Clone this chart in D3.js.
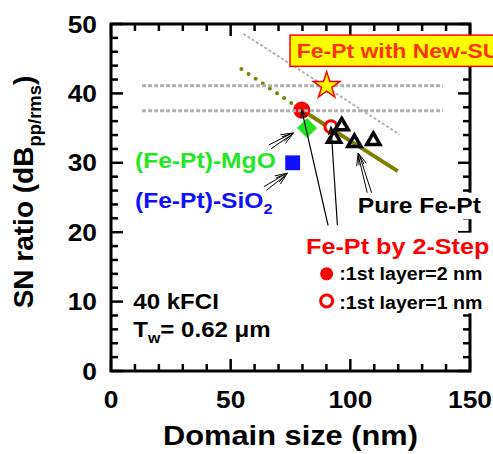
<!DOCTYPE html>
<html>
<head>
<meta charset="utf-8">
<script src="https://cdn.jsdelivr.net/npm/d3@7"></script>
<style>
  body { margin: 0; background: #fff; }
  svg { display: block; font-family: "Liberation Sans", Arial, sans-serif; font-weight: bold; }
</style>
</head>
<body>
<svg id="chart"></svg>
<script>
// Domain size (nm) vs SN ratio (dB)
const pureSize = [96.4, 93.2, 101.7, 109.6];
const pureSN = [35.3, 33.5, 32.9, 33.2];
const step2nmSize = [79.7];
const step2nmSN = [37.6];
const step1nmSize = [91.9];
const step1nmSN = [35.2];
const mgoSize = [81.9];
const mgoSN = [35.0];
const sio2Size = [75.9];
const sio2SN = [30.0];
const newSulSize = [90.1];
const newSulSN = [41.1];

const trendSolidX = [79.7, 119.8];
const trendSolidY = [37.6, 28.8];
const trendDotX = [54.5, 79.7];
const trendDotY = [43.5, 37.6];
const grayDiagX = [55.3, 120.5];
const grayDiagY = [48.6, 34.1];
const refLevels = [41.1, 37.5];
const refRange = [13, 138.6];

const xTickLabels = [0, 50, 100, 150];
const yTickLabels = [0, 10, 20, 30, 40, 50];

const width = 493;
const height = 454;
const SX = 1.12; // glyphs in the figure are a little wider than Arial

const svg = d3.select('#chart')
    .attr('width', width)
    .attr('height', height);

const x = d3.scaleLinear().domain([0, 150]).range([111, 470]);
const y = d3.scaleLinear().domain([0, 50]).range([371, 24]);

// text helper: parts are strings or {sub: '...'}
function label(sel, px, py, parts, size, color, anchor, rot) {
    const t = sel.append('text')
        .attr('transform', rot
            ? `translate(${px},${py}) rotate(${rot})`
            : `translate(${px},${py}) scale(${SX},1)`)
        .attr('font-size', size)
        .attr('fill', color || '#000')
        .attr('text-anchor', anchor || 'start');
    let shift = 0;
    parts.forEach(p => {
        if (typeof p === 'string') {
            t.append('tspan').attr('dy', -shift).text(p);
            shift = 0;
        } else {
            shift = size * 0.28;
            t.append('tspan').attr('dy', shift).attr('font-size', size * 0.66).text(p.sub);
        }
    });
    return t;
}

// ---- axes (ticks inside on all four sides)
const axG = svg.append('g').attr('stroke', '#000');
const xMinor = d3.range(0, 151, 10);
const yMinor = d3.range(0, 51, 2);
const xLen = v => (v % 50 === 0 ? 12 : 7);
const yLen = v => (v % 10 === 0 ? 12 : 7);

axG.selectAll('.xb').data(xMinor).enter().append('line')
    .attr('x1', d => x(d)).attr('x2', d => x(d))
    .attr('y1', y(0)).attr('y2', d => y(0) - xLen(d))
    .attr('stroke-width', 2.5);
axG.selectAll('.xt').data(xMinor).enter().append('line')
    .attr('x1', d => x(d)).attr('x2', d => x(d))
    .attr('y1', y(50)).attr('y2', d => y(50) + xLen(d))
    .attr('stroke-width', 2.5);
axG.selectAll('.yl').data(yMinor).enter().append('line')
    .attr('y1', d => y(d)).attr('y2', d => y(d))
    .attr('x1', x(0)).attr('x2', d => x(0) + yLen(d))
    .attr('stroke-width', 2.5);
axG.selectAll('.yr').data(yMinor).enter().append('line')
    .attr('y1', d => y(d)).attr('y2', d => y(d))
    .attr('x1', x(150)).attr('x2', d => x(150) - yLen(d))
    .attr('stroke-width', 2.5);
axG.append('rect')
    .attr('x', x(0)).attr('y', y(50))
    .attr('width', x(150) - x(0)).attr('height', y(0) - y(50))
    .attr('fill', 'none').attr('stroke-width', 3);

xTickLabels.forEach(v => label(svg, x(v), 408, [String(v)], 23.5, '#000', 'middle'));
yTickLabels.forEach(v => label(svg, 97, y(v) + 8.5, [String(v)], 23.5, '#000', 'end'));

label(svg, 290.5, 445, ['Domain size (nm)'], 27.5, '#000', 'middle');
label(svg, 33, 192, ['SN ratio (dB', {sub: 'pp/rms'}, ')'], 28, '#000', 'middle', -90);

// ---- reference lines
const line = d3.line().x(d => x(d[0])).y(d => y(d[1]));

svg.append('path')
    .attr('d', line(grayDiagX.map((v, i) => [v, grayDiagY[i]])))
    .attr('stroke', '#b4b4b4').attr('stroke-width', 2)
    .attr('stroke-dasharray', '3,2').attr('fill', 'none');

svg.append('path')
    .attr('d', line(trendDotX.map((v, i) => [v, trendDotY[i]])))
    .attr('stroke', '#808000').attr('stroke-width', 4)
    .attr('stroke-linecap', 'round')
    .attr('stroke-dasharray', '0,8.6').attr('fill', 'none');

svg.append('path')
    .attr('d', line(trendSolidX.map((v, i) => [v, trendSolidY[i]])))
    .attr('stroke', '#808000').attr('stroke-width', 4).attr('fill', 'none');

// ---- markers
const sym = (type, size) => d3.symbol().type(type).size(size)();

svg.selectAll('.step2').data(step2nmSize).enter().append('path')
    .attr('transform', (d, i) => `translate(${x(d)},${y(step2nmSN[i])})`)
    .attr('d', sym(d3.symbolCircle, 230))
    .attr('fill', '#ff0000');

refLevels.forEach(v => {
    svg.append('line')
        .attr('x1', x(refRange[0])).attr('x2', x(refRange[1]))
        .attr('y1', y(v)).attr('y2', y(v))
        .attr('stroke', '#b0b0b0').attr('stroke-width', 3)
        .attr('stroke-dasharray', '4,2');
});

svg.selectAll('.mgo').data(mgoSize).enter().append('path')
    .attr('transform', (d, i) => `translate(${x(d)},${y(mgoSN[i])}) rotate(45)`)
    .attr('d', sym(d3.symbolSquare, 200))
    .attr('fill', '#22e822');

svg.selectAll('.sio2').data(sio2Size).enter().append('path')
    .attr('transform', (d, i) => `translate(${x(d)},${y(sio2SN[i])})`)
    .attr('d', sym(d3.symbolSquare, 220))
    .attr('fill', '#1010ff');

svg.selectAll('.step1').data(step1nmSize).enter().append('path')
    .attr('transform', (d, i) => `translate(${x(d)},${y(step1nmSN[i])})`)
    .attr('d', sym(d3.symbolCircle, 113))
    .attr('fill', '#fff').attr('stroke', '#ff0000').attr('stroke-width', 3);

svg.selectAll('.pure').data(pureSize).enter().append('path')
    .attr('transform', (d, i) => `translate(${x(d)},${y(pureSN[i])})`)
    .attr('d', sym(d3.symbolTriangle, 75))
    .attr('fill', 'none').attr('stroke', '#000').attr('stroke-width', 3.5)
    .attr('stroke-linejoin', 'miter');

svg.selectAll('.newsul').data(newSulSize).enter().append('path')
    .attr('transform', (d, i) => `translate(${x(d)},${y(newSulSN[i])})`)
    .attr('d', sym(d3.symbolStar, 220))
    .attr('fill', '#ffff00').attr('stroke', '#ff0000').attr('stroke-width', 1.5);

// ---- arrows
function arrowPath(x1, y1, x2, y2, double) {
    const dx = x2 - x1, dy = y2 - y1, L = Math.hypot(dx, dy);
    const ux = dx / L, uy = dy / L, nx = -uy, ny = ux;
    const p = d3.path();
    if (double) {
        [-1, 1].forEach(s => {
            p.moveTo(x1 + nx * 2.2 * s, y1 + ny * 2.2 * s);
            p.lineTo(x2 - ux * 3 + nx * 0.6 * s, y2 - uy * 3 + ny * 0.6 * s);
        });
        p.moveTo(x2 - ux * 12 + nx * 5, y2 - uy * 12 + ny * 5);
        p.lineTo(x2, y2);
        p.lineTo(x2 - ux * 12 - nx * 5, y2 - uy * 12 - ny * 5);
        p.moveTo(x2 - ux * 12 + nx * 2.5, y2 - uy * 12 + ny * 2.5);
        p.lineTo(x2, y2);
        p.lineTo(x2 - ux * 12 - nx * 2.5, y2 - uy * 12 - ny * 2.5);
    } else {
        p.moveTo(x1, y1);
        p.lineTo(x2, y2);
        p.moveTo(x2 - ux * 8 + nx * 3, y2 - uy * 8 + ny * 3);
        p.lineTo(x2, y2);
        p.lineTo(x2 - ux * 8 - nx * 3, y2 - uy * 8 - ny * 3);
    }
    return p.toString();
}

const dblArrows = [
    [66.4, 32.3, 76.2, 34.3],
    [64.4, 26.3, 73.7, 28.5],
    [108.2, 25.4, 103.3, 31.4]
];
const thinArrows = [
    [90.7, 21.0, step2nmSize[0], step2nmSN[0]],
    [94.6, 21.0, step1nmSize[0], step1nmSN[0]]
];
dblArrows.forEach(a => svg.append('path')
    .attr('d', arrowPath(x(a[0]), y(a[1]), x(a[2]), y(a[3]), true))
    .attr('stroke', '#000').attr('stroke-width', 1).attr('fill', 'none'));
thinArrows.forEach(a => svg.append('path')
    .attr('d', arrowPath(x(a[0]), y(a[1]), x(a[2]), y(a[3]), false))
    .attr('stroke', '#000').attr('stroke-width', 1.2).attr('fill', 'none'));

// ---- annotations
label(svg, x(10), y(29.2), ['(Fe-Pt)-MgO'], 22, '#22e822');
label(svg, x(10), y(23.5), ['(Fe-Pt)-SiO', {sub: '2'}], 22, '#1010ff');
label(svg, x(9.3), y(9.0), ['40 kFCI'], 21.5, '#000');
label(svg, x(9.3), y(4.9), ['T', {sub: 'w'}, '= 0.62 \u03bcm'], 21.5, '#000');

const pureG = svg.append('g');
const pureT = label(pureG, x(103.1), y(22.7), ['Pure Fe-Pt'], 22, '#000');
const pb = pureG.node().getBBox();
pureG.insert('rect', 'text')
    .attr('x', pb.x - 2).attr('y', pb.y - 1)
    .attr('width', pb.width + 4).attr('height', pb.height + 2)
    .attr('fill', '#fff');

const stepG = svg.append('g');
label(stepG, x(81.5), y(16.8), ['Fe-Pt by 2-Step'], 22.5, '#ff0000');
stepG.append('circle').attr('cx', x(90.1)).attr('cy', y(14.0)).attr('r', 6.5).attr('fill', '#ff0000');
stepG.append('circle').attr('cx', x(90.1)).attr('cy', y(10.1)).attr('r', 6)
    .attr('fill', '#fff').attr('stroke', '#ff0000').attr('stroke-width', 3);
label(stepG, x(95.4), y(13.1), [':1st layer=2 nm'], 17.5, '#000');
label(stepG, x(95.4), y(9.0), [':1st layer=1 nm'], 17.5, '#000');
const sb = stepG.node().getBBox();
stepG.insert('rect', ':first-child')
    .attr('x', sb.x - 2).attr('y', sb.y - 1)
    .attr('width', sb.width + 4).attr('height', sb.height + 2)
    .attr('fill', '#fff');

// title box, running off the right edge as in the figure
const boxG = svg.append('g');
boxG.append('rect')
    .attr('x', x(74.8)).attr('y', y(48.4))
    .attr('width', 260).attr('height', y(43.9) - y(48.4))
    .attr('fill', '#ffff00').attr('stroke', '#ff0000').attr('stroke-width', 1.5);
label(boxG, x(77.6), y(45.1), ['Fe-Pt with New-SUL'], 20.5, '#ff3300');
</script>
</body>
</html>
